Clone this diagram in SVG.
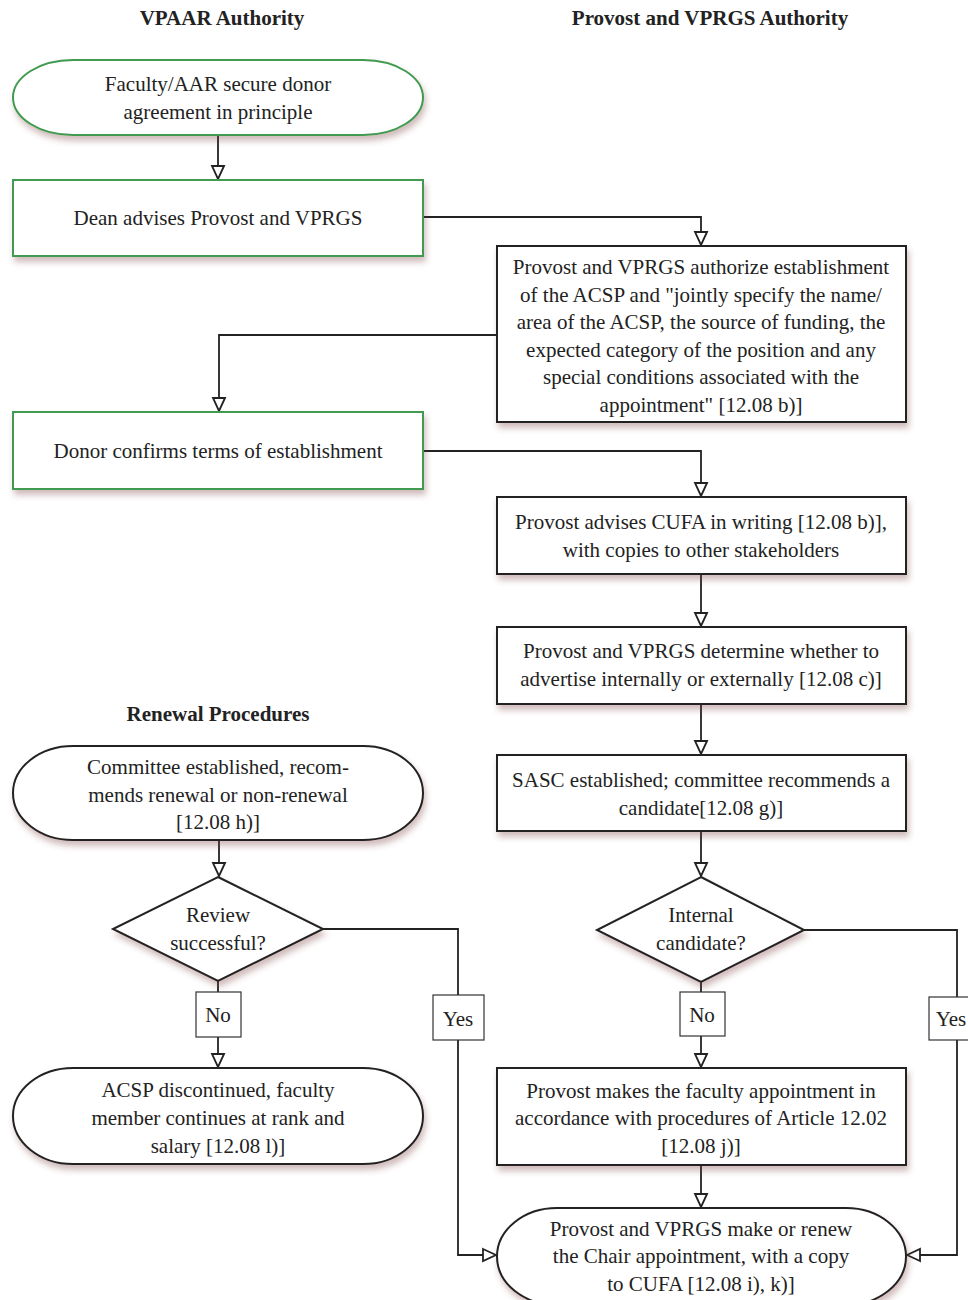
<svg xmlns="http://www.w3.org/2000/svg" width="968" height="1300" viewBox="0 0 968 1300">
<defs>
<style>
.t{font-family:"Liberation Serif","Times New Roman",serif;font-size:21px;fill:#222;text-anchor:middle}
.h{font-family:"Liberation Serif","Times New Roman",serif;font-size:21px;font-weight:bold;fill:#222;text-anchor:middle}
.g{fill:#fff;stroke:#3f9a4f;stroke-width:2}
.k{fill:#fff;stroke:#222;stroke-width:2}
.c{fill:none;stroke:#222;stroke-width:1.8}
.lb{fill:#fff;stroke:#333;stroke-width:1.2}
</style>
<filter id="sh" x="-10%" y="-20%" width="125%" height="150%">
<feDropShadow dx="2" dy="5" stdDeviation="3" flood-color="#7a3a3a" flood-opacity="0.35"/>
</filter>
<marker id="ah" viewBox="0 -8 16 16" refX="14" refY="0" markerWidth="16" markerHeight="16" markerUnits="userSpaceOnUse" orient="auto">
<path d="M1,-6 L14,0 L1,6 Z" fill="#fff" stroke="#222" stroke-width="1.8"/>
</marker>
</defs>
<rect width="968" height="1300" fill="#fff"/>
<text class="h" x="222" y="25">VPAAR Authority</text>
<text class="h" x="710" y="25">Provost and VPRGS Authority</text>
<text class="h" x="218" y="721">Renewal Procedures</text>

<g id="connectors">
<path class="c" d="M218,136 V179" marker-end="url(#ah)"/>
<path class="c" d="M423,217 H701 V245" marker-end="url(#ah)"/>
<path class="c" d="M497,335 H219 V411" marker-end="url(#ah)"/>
<path class="c" d="M423,451 H701 V496" marker-end="url(#ah)"/>
<path class="c" d="M701,574 V626" marker-end="url(#ah)"/>
<path class="c" d="M701,704 V754" marker-end="url(#ah)"/>
<path class="c" d="M701,831 V876" marker-end="url(#ah)"/>
<path class="c" d="M701,982 V1067" marker-end="url(#ah)"/>
<path class="c" d="M804,930 H957 V1255 H907" marker-end="url(#ah)"/>
<path class="c" d="M701,1165 V1207" marker-end="url(#ah)"/>
<path class="c" d="M219,840 V876" marker-end="url(#ah)"/>
<path class="c" d="M218,981 V1067" marker-end="url(#ah)"/>
<path class="c" d="M323,929 H458 V1255 H496" marker-end="url(#ah)"/>
<rect class="lb" x="680" y="992" width="45" height="44"/>
<text class="t" x="702" y="1022">No</text>
<rect class="lb" x="929" y="997" width="56" height="43"/>
<text class="t" x="951" y="1026">Yes</text>
<rect class="lb" x="196" y="992" width="45" height="45"/>
<text class="t" x="218" y="1022">No</text>
<rect class="lb" x="433" y="995" width="51" height="45"/>
<text class="t" x="458" y="1026">Yes</text>
</g>

<g id="n1" filter="url(#sh)">
<rect class="g" x="13" y="60" width="410" height="75" rx="60" ry="37.5"/>
</g>
<g id="n1t"><text class="t" x="218" y="91">Faculty/AAR secure donor</text><text class="t" x="218" y="119">agreement in principle</text></g>

<g id="n2"><rect class="g" x="13" y="180" width="410" height="76" filter="url(#sh)"/>
<text class="t" x="218" y="225">Dean advises Provost and VPRGS</text></g>

<g id="n3"><rect class="k" x="497" y="246" width="409" height="176" filter="url(#sh)"/>
<text class="t" x="701" y="274">Provost and VPRGS authorize establishment</text>
<text class="t" x="701" y="302">of the ACSP and "jointly specify the name/</text>
<text class="t" x="701" y="329">area of the ACSP, the source of funding, the</text>
<text class="t" x="701" y="357">expected category of the position and any</text>
<text class="t" x="701" y="384">special conditions associated with the</text>
<text class="t" x="701" y="412">appointment" [12.08 b)]</text></g>

<g id="n4"><rect class="g" x="13" y="412" width="410" height="77" filter="url(#sh)"/>
<text class="t" x="218" y="458">Donor confirms terms of establishment</text></g>

<g id="n5"><rect class="k" x="497" y="497" width="409" height="77" filter="url(#sh)"/>
<text class="t" x="701" y="529">Provost advises CUFA in writing [12.08 b)],</text>
<text class="t" x="701" y="557">with copies to other stakeholders</text></g>

<g id="n6"><rect class="k" x="497" y="627" width="409" height="77" filter="url(#sh)"/>
<text class="t" x="701" y="658">Provost and VPRGS determine whether to</text>
<text class="t" x="701" y="686">advertise internally or externally [12.08 c)]</text></g>

<g id="n7"><rect class="k" x="497" y="755" width="409" height="76" filter="url(#sh)"/>
<text class="t" x="701" y="787">SASC established; committee recommends a</text>
<text class="t" x="701" y="815">candidate[12.08 g)]</text></g>

<g id="d1"><path class="k" d="M701,877 L804,930 L701,982 L597,930 Z" filter="url(#sh)"/>
<text class="t" x="701" y="922">Internal</text>
<text class="t" x="701" y="950">candidate?</text></g>

<g id="n8"><rect class="k" x="497" y="1068" width="409" height="97" filter="url(#sh)"/>
<text class="t" x="701" y="1098">Provost makes the faculty appointment in</text>
<text class="t" x="701" y="1125">accordance with procedures of Article 12.02</text>
<text class="t" x="701" y="1153">[12.08 j)]</text></g>

<g id="n9"><rect class="k" x="497" y="1208" width="409" height="97" rx="60" ry="48.5" filter="url(#sh)"/>
<text class="t" x="701" y="1236">Provost and VPRGS make or renew</text>
<text class="t" x="701" y="1263">the Chair appointment, with a copy</text>
<text class="t" x="701" y="1291">to CUFA [12.08 i), k)]</text></g>

<g id="r1"><rect class="k" x="13" y="746" width="410" height="94" rx="60" ry="47" filter="url(#sh)"/>
<text class="t" x="218" y="774">Committee established, recom-</text>
<text class="t" x="218" y="802">mends renewal or non-renewal</text>
<text class="t" x="218" y="829">[12.08 h)]</text></g>

<g id="d2"><path class="k" d="M218,877 L323,929 L218,981 L113,929 Z" filter="url(#sh)"/>
<text class="t" x="218" y="922">Review</text>
<text class="t" x="218" y="950">successful?</text></g>

<g id="r2"><rect class="k" x="13" y="1068" width="410" height="96" rx="60" ry="48" filter="url(#sh)"/>
<text class="t" x="218" y="1097">ACSP discontinued, faculty</text>
<text class="t" x="218" y="1125">member continues at rank and</text>
<text class="t" x="218" y="1153">salary [12.08 l)]</text></g>
</svg>
